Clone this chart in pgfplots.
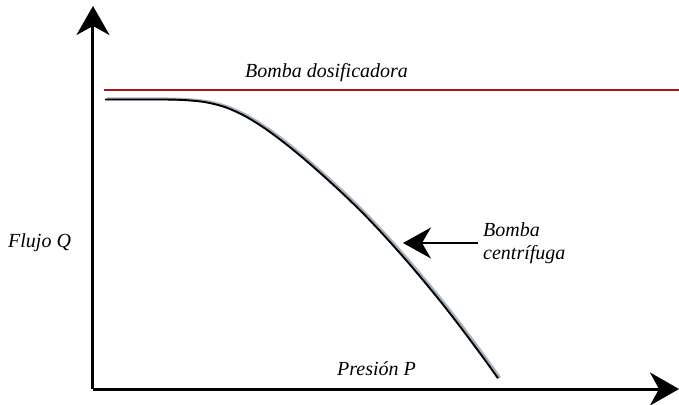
\documentclass[border=0pt]{standalone}
\usepackage{pgfplots}
\pgfplotsset{compat=1.18}
\usepackage{fontspec}
\setmainfont{Liberation Serif}
\usetikzlibrary{arrows.meta}
\definecolor{dred}{RGB}{165,20,30}
\definecolor{shadowc}{RGB}{165,178,192}
\pgfplotstableread{
x y
105 304.5
145 304.5
165 304.5
185 303.9
205 301.9
225 296.9
245 287.9
265 275.5
285 260.7
305 244.3
325 226.7
345 208.3
365 188.7
385 167.5
405 145.1
425 121.5
445 96.9
465 70.9
485 43.9
498 25.7
}\centrifuga
\begin{document}
\begin{tikzpicture}
\begin{axis}[
  scale only axis,
  width=586pt, height=383pt,
  xmin=93, xmax=679, ymin=15, ymax=398,
  axis lines=left,
  axis line style={line width=3pt, -{Stealth[length=29pt,width=33pt,inset=9pt]}},
  xtick=\empty, ytick=\empty,
  clip=false,
]
\coordinate (bl) at (axis cs:0,0);
\coordinate (tr) at (axis cs:679,404);
% Bomba dosificadora (constant flow)
\addplot[dred, line width=2.6pt] coordinates {(104,314) (679,314)};
% Bomba centrifuga - shadow and line
\addplot[shadowc, line width=2.8pt, smooth, xshift=1.8pt, yshift=0.6pt] table[x=x,y=y] {\centrifuga};
\addplot[black, line width=1.9pt, smooth] table[x=x,y=y] {\centrifuga};
\draw[line width=2.2pt, -{Stealth[length=28pt,width=31pt,inset=9pt]}] (axis cs:478,161) -- (axis cs:403,161);
\node[anchor=base west, inner sep=0pt, font=\fontsize{20}{24}\selectfont\itshape] at (axis cs:245,326) {Bomba dosificadora};
\node[anchor=base west, inner sep=0pt, font=\fontsize{20}{24}\selectfont\itshape] at (axis cs:8,156) {Flujo Q};
\node[anchor=base west, inner sep=0pt, font=\fontsize{20}{24}\selectfont\itshape] at (axis cs:337,29) {Presión P};
\node[anchor=base west, inner sep=0pt, font=\fontsize{20}{24}\selectfont\itshape] at (axis cs:483,167) {Bomba};
\node[anchor=base west, inner sep=0pt, font=\fontsize{20}{24}\selectfont\itshape] at (axis cs:483,144) {centrífuga};
\end{axis}
\pgfresetboundingbox
\path[use as bounding box] (bl) rectangle (tr);
\end{tikzpicture}
\end{document}
